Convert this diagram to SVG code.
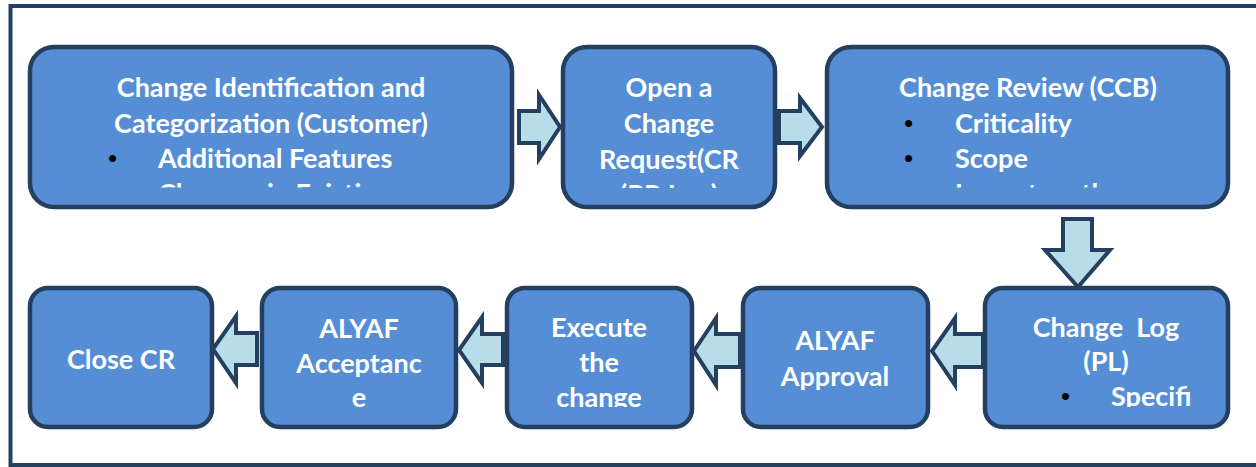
<svg xmlns="http://www.w3.org/2000/svg" width="1256" height="467" viewBox="0 0 1256 467">
<style>
.box{fill:#558ED5;stroke:#243F60;stroke-width:4.5}
.arr{fill:#B7DDE8;stroke:#243F60;stroke-width:4;stroke-linejoin:miter}
.t{font-family:Lato,"Open Sans","Liberation Sans",sans-serif;font-weight:700;font-size:27px;fill:#FFFFFF}
.c{text-anchor:middle}
.b{font-family:"Liberation Sans",Arial,sans-serif;font-size:26px;fill:#000000}
</style>
<defs>
<clipPath id="c1"><rect x="30" y="47" width="482" height="140.5"/></clipPath>
<clipPath id="c2"><rect x="563" y="47" width="212" height="141"/></clipPath>
<clipPath id="c3"><rect x="827" y="47" width="401" height="140.5"/></clipPath>
<clipPath id="c6"><rect x="507" y="288" width="185" height="119"/></clipPath>
<clipPath id="c8"><rect x="985" y="288" width="243" height="119"/></clipPath>
</defs>
<rect x="10.5" y="6" width="1260" height="459" fill="#FFFFFF" stroke="#243F60" stroke-width="4"/>
<g id="connectors">
<polygon class="arr" points="519,111 539,111 539,95 560,127 539,159 539,143 519,143"/>
<polygon class="arr" points="779,111 800,111 800,98 822,127 800,156 800,143 779,143"/>
<polygon class="arr" points="1063,219 1092,219 1092,250 1110,250 1078,287 1045,250 1063,250"/>
<polygon class="arr" points="983,334 955,334 955,318 932,351 955,385 955,367 983,367"/>
<polygon class="arr" points="740,334 716,334 716,318 694,351 716,385 716,367 740,367"/>
<polygon class="arr" points="503,334 482,334 482,317 459,350 482,383 482,365 503,365"/>
<polygon class="arr" points="257,333 236,333 236,316 213,349 236,383 236,365 257,365"/>
</g>
<g id="node-identification">
<rect class="box" x="30" y="47" width="482" height="160" rx="24"/>
<g clip-path="url(#c1)">
<text class="t c" x="271" y="97">Change Identification and</text>
<text class="t c" x="271" y="133">Categorization (Customer)</text>
<text class="b" x="108" y="167">•</text>
<text class="t" x="158" y="168">Additional Features</text>
<text class="b" x="108" y="202">•</text>
<text class="t" x="158" y="203">Changes in Existing</text>
</g>
</g>
<g id="node-open-cr">
<rect class="box" x="563" y="47" width="212" height="160" rx="24"/>
<g clip-path="url(#c2)">
<text class="t c" x="669" y="97">Open a</text>
<text class="t c" x="669" y="133">Change</text>
<text class="t c" x="669" y="169">Request(CR</text>
<text class="t c" x="669" y="204">(PR Log)</text>
</g>
</g>
<g id="node-review">
<rect class="box" x="827" y="47" width="401" height="160" rx="24"/>
<g clip-path="url(#c3)">
<text class="t c" x="1028" y="97">Change Review (CCB)</text>
<text class="b" x="904" y="132">•</text>
<text class="t" x="955" y="133">Criticality</text>
<text class="b" x="904" y="167">•</text>
<text class="t" x="955" y="168">Scope</text>
<text class="b" x="904" y="202">•</text>
<text class="t" x="955" y="203">Impact on the</text>
</g>
</g>
<g id="node-change-log">
<rect class="box" x="985" y="288" width="243" height="139" rx="18"/>
<g clip-path="url(#c8)">
<text class="t c" x="1106" y="337" xml:space="preserve">Change  Log</text>
<text class="t c" x="1106" y="371">(PL)</text>
<text class="b" x="1061" y="405">•</text>
<text class="t" x="1111" y="406">Specifi</text>
</g>
</g>
<g id="node-approval">
<rect class="box" x="743" y="288" width="185" height="139" rx="18"/>
<text class="t c" x="835" y="350">ALYAF</text>
<text class="t c" x="835" y="386">Approval</text>
</g>
<g id="node-execute">
<rect class="box" x="507" y="288" width="185" height="139" rx="18"/>
<g clip-path="url(#c6)">
<text class="t c" x="599" y="337">Execute</text>
<text class="t c" x="599" y="372">the</text>
<text class="t c" x="599" y="407">change</text>
</g>
</g>
<g id="node-acceptance">
<rect class="box" x="262" y="288" width="194" height="139" rx="18"/>
<text class="t c" x="359" y="338">ALYAF</text>
<text class="t c" x="359" y="373">Acceptanc</text>
<text class="t c" x="359" y="407">e</text>
</g>
<g id="node-close">
<rect class="box" x="30" y="288" width="182" height="139" rx="18"/>
<text class="t c" x="121" y="369">Close CR</text>
</g>
</svg>
